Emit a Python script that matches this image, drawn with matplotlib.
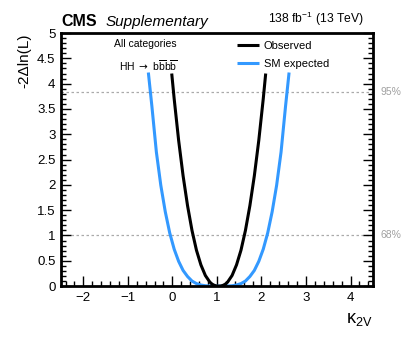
import numpy as np
import matplotlib
matplotlib.use('Agg')
from matplotlib import pyplot as plt
from matplotlib.ticker import MultipleLocator

plt.rcParams['font.family'] = ['Liberation Sans', 'DejaVu Sans']
plt.rcParams['mathtext.fontset'] = 'custom'
plt.rcParams['mathtext.rm'] = 'Liberation Sans'
plt.rcParams['mathtext.it'] = 'Liberation Sans:italic'

# likelihood scan values
obs_k2v = [-0.015, 0.04, 0.14, 0.24, 0.34, 0.44, 0.54, 0.64, 0.74, 0.84, 0.89,
           0.94, 0.99, 1.04, 1.09, 1.14, 1.19, 1.24, 1.34, 1.44, 1.54, 1.64,
           1.74, 1.84, 1.94, 2.04, 2.095]
obs_nll = [4.20, 3.70, 2.88, 2.18, 1.59, 1.10, 0.71, 0.42, 0.21, 0.08, 0.04,
           0.016, 0.003, 0.0, 0.003, 0.016, 0.04, 0.08, 0.21, 0.42, 0.71, 1.10,
           1.59, 2.18, 2.88, 3.70, 4.20]

exp_k2v = [-0.54, -0.46, -0.36, -0.26, -0.16, -0.06, 0.04, 0.14, 0.24, 0.34,
           0.44, 0.54, 0.64, 0.74, 0.84, 0.94, 1.04, 1.14, 1.24, 1.34, 1.44,
           1.54, 1.64, 1.74, 1.84, 1.94, 2.04, 2.14, 2.24, 2.34, 2.44, 2.54, 2.62]
exp_nll = [4.22, 3.55, 2.65, 1.99, 1.47, 1.05, 0.73, 0.49, 0.31, 0.19,
           0.10, 0.05, 0.022, 0.007, 0.002, 0.0, 0.0, 0.0, 0.002, 0.007, 0.022,
           0.05, 0.10, 0.19, 0.31, 0.49, 0.73, 1.05, 1.47, 1.99, 2.65, 3.55, 4.22]

cl_levels = [1.0, 3.84]
cl_labels = ['68%', '95%']

fig = plt.figure(figsize=(4.07, 3.37), dpi=100)
ax = fig.add_axes([0.150, 0.151, 0.766, 0.751])

for lvl, lab in zip(cl_levels, cl_labels):
    ax.axhline(lvl, color='#aaaaaa', linestyle=(0, (2, 2)), linewidth=0.9, zorder=1)
    ax.text(1.025, lvl, lab, transform=ax.get_yaxis_transform(), color='#a0a0a0',
            fontsize=7.5, va='center', ha='left')

l1, = ax.plot(obs_k2v, obs_nll, color='black', linewidth=2.2, label='Observed',
              solid_capstyle='butt', solid_joinstyle='round', zorder=3)
l2, = ax.plot(exp_k2v, exp_nll, color='#3399ff', linewidth=2.2, label='SM expected',
              solid_capstyle='butt', solid_joinstyle='round', zorder=2)

ax.set_xlim(-2.5, 4.5)
ax.set_ylim(0, 5)
ax.xaxis.set_major_locator(MultipleLocator(1))
ax.xaxis.set_minor_locator(MultipleLocator(0.2))
ax.yaxis.set_major_locator(MultipleLocator(0.5))
ax.yaxis.set_minor_locator(MultipleLocator(0.1))
ax.yaxis.set_major_formatter(plt.FuncFormatter(lambda v, p: '%g' % v))
ax.xaxis.set_major_formatter(plt.FuncFormatter(lambda v, p: ('%g' % v).replace('-', '\u2212')))
ax.tick_params(which='both', direction='in', top=False, right=True, width=1.0, labelsize=9.5)
ax.tick_params(which='major', length=7, pad=4)
ax.tick_params(which='minor', length=3.5)
for s in ax.spines.values():
    s.set_linewidth(2.0)

ax.set_ylabel('-2\u0394ln(L)', fontsize=11)
ax.yaxis.set_label_coords(-0.095, 1.0)
ax.yaxis.label.set_ha('right')
ax.set_xlabel(r'$\mathregular{\kappa_{2V}}$', fontsize=13)
ax.xaxis.set_label_coords(1.0, -0.1)
ax.xaxis.label.set_ha('right')

ax.text(0.0, 1.015, 'CMS', transform=ax.transAxes, fontsize=11.5, fontweight='bold',
        ha='left', va='bottom')
ax.text(0.142, 1.015, 'Supplementary', transform=ax.transAxes, fontsize=11,
        style='italic', ha='left', va='bottom')
ax.text(0.97, 1.02, r'138 fb$^{-1}$ (13 TeV)', transform=ax.transAxes, fontsize=8.7,
        ha='right', va='bottom')

ax.text(0.27, 0.955, 'All categories', transform=ax.transAxes, fontsize=7.5,
        ha='center', va='center')
ax.text(0.28, 0.87, 'HH ' + r'$\rightarrow$ b$\overline{\mathregular{b}}$b$\overline{\mathregular{b}}$',
        transform=ax.transAxes, fontsize=7.5, ha='center', va='center',
        math_fontfamily='dejavusans')

ax.legend(handles=[l1, l2], loc='upper left', bbox_to_anchor=(0.54, 1.0), frameon=False,
          fontsize=8, handlelength=2.0, handletextpad=0.4, labelspacing=0.75,
          borderaxespad=0.3)

fig.savefig('out.png', dpi=100)
